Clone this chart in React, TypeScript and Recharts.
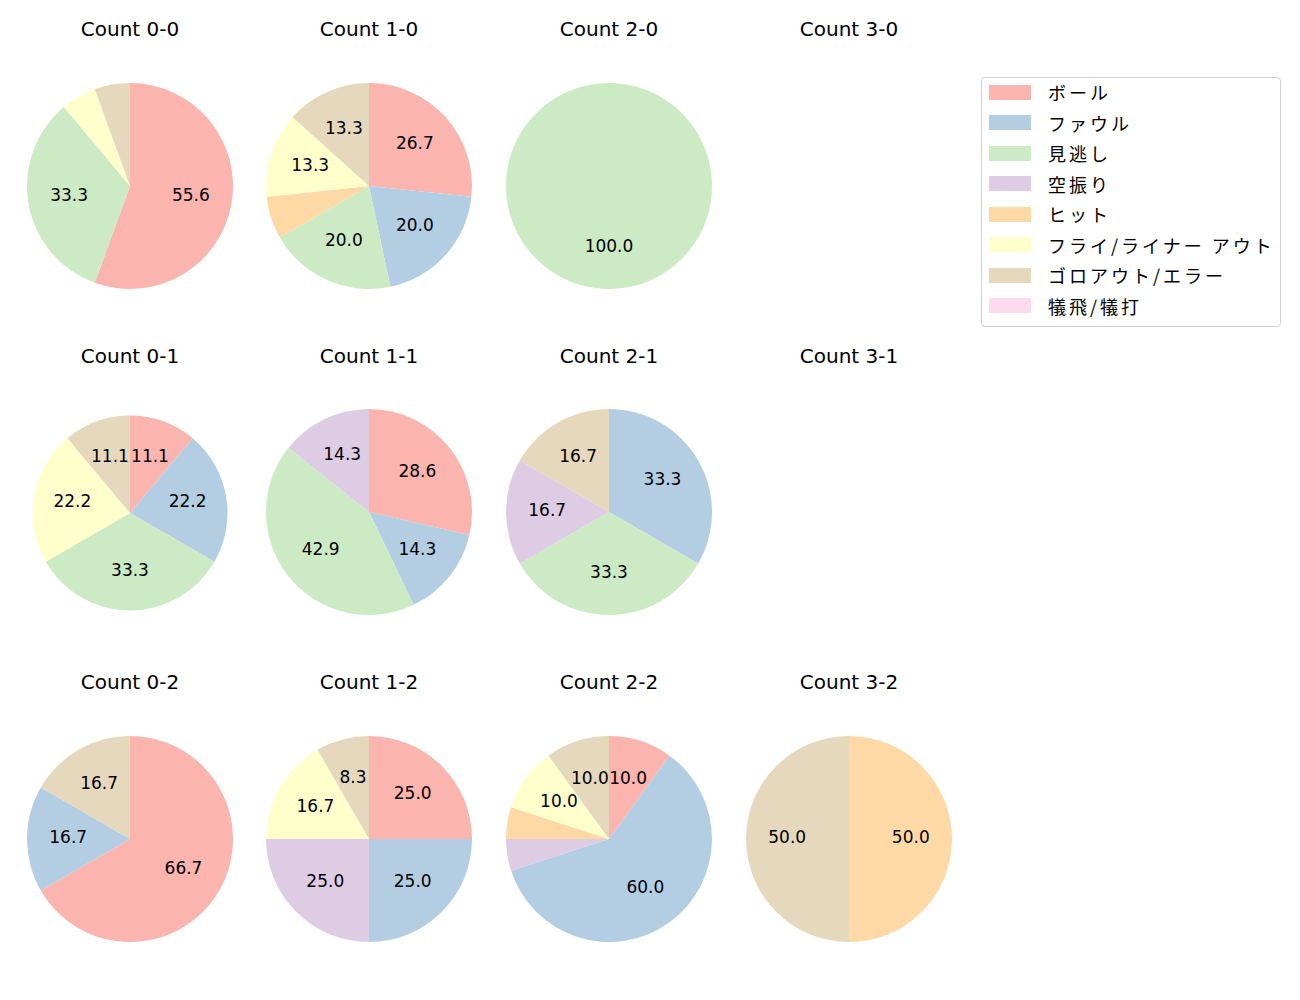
import React from 'react'
import { PieChart, Pie, Cell } from 'recharts'

const categories = ['ボール', 'ファウル', '見逃し', '空振り', 'ヒット', 'フライ/ライナー アウト', 'ゴロアウト/エラー', '犠飛/犠打']
const colors = ['#fbb4ae', '#b3cde3', '#ccebc5', '#decbe4', '#fed9a6', '#ffffcc', '#e5d8bd', '#fddaec']

const counts00 = [10, 0, 6, 0, 0, 1, 1, 0]
const counts10 = [4, 3, 3, 0, 1, 2, 2, 0]
const counts20 = [0, 0, 1, 0, 0, 0, 0, 0]
const counts30: number[] = []
const counts01 = [1, 2, 3, 0, 0, 2, 1, 0]
const counts11 = [2, 1, 3, 1, 0, 0, 0, 0]
const counts21 = [0, 2, 2, 1, 0, 0, 1, 0]
const counts31: number[] = []
const counts02 = [4, 1, 0, 0, 0, 0, 1, 0]
const counts12 = [3, 3, 0, 3, 0, 2, 1, 0]
const counts22 = [2, 12, 0, 1, 1, 2, 2, 0]
const counts32 = [0, 0, 0, 0, 1, 0, 1, 0]

const panels = [
  { title: 'Count 0-0', values: counts00 },
  { title: 'Count 1-0', values: counts10 },
  { title: 'Count 2-0', values: counts20 },
  { title: 'Count 3-0', values: counts30 },
  { title: 'Count 0-1', values: counts01, small: true },
  { title: 'Count 1-1', values: counts11 },
  { title: 'Count 2-1', values: counts21 },
  { title: 'Count 3-1', values: counts31 },
  { title: 'Count 0-2', values: counts02 },
  { title: 'Count 1-2', values: counts12 },
  { title: 'Count 2-2', values: counts22 },
  { title: 'Count 3-2', values: counts32 },
]

const colX = [130, 369, 609, 849]
const rowY = [186, 512, 839]
const titleY = [29, 356, 682]
const SIZE = 240
const LATIN = '"DejaVu Sans", "Noto Sans CJK JP", sans-serif'
const CJK = '"Noto Sans CJK JP", "DejaVu Sans", sans-serif'

const RAD = Math.PI / 180

// matplotlib-style autopct, small slices unlabeled
function renderLabel(props: any) {
  const { cx, cy, midAngle, outerRadius, percent } = props
  if (percent * 100 < 8) return null
  const r = outerRadius * 0.6
  const x = cx + r * Math.cos(-midAngle * RAD)
  const y = cy + r * Math.sin(-midAngle * RAD) - 2
  return (
    <text x={x} y={y} textAnchor="middle" dominantBaseline="central" fill="#000" fontSize={17} fontFamily={LATIN}>
      {(percent * 100).toFixed(1)}
    </text>
  )
}

function Panel({ title, values, x, y, ty, small }: { title: string; values: number[]; x: number; y: number; ty: number; small?: boolean }) {
  const data = values
    .map((v, i) => ({ name: categories[i], value: v, color: colors[i] }))
    .filter(d => d.value > 0)
  const cx = small ? x - 0.5 : x
  const cy = small ? y + 0.5 : y
  return (
    <>
      <div
        style={{
          position: 'absolute',
          left: x - 120,
          top: ty - 12,
          width: 240,
          lineHeight: '24px',
          textAlign: 'center',
          fontSize: 20,
          fontFamily: LATIN,
          color: '#000',
        }}
      >
        {title}
      </div>
      {data.length > 0 && (
        <div style={{ position: 'absolute', left: cx - SIZE / 2, top: cy - SIZE / 2 }}>
          <PieChart width={SIZE} height={SIZE} margin={{ top: 0, right: 0, bottom: 0, left: 0 }}>
            <Pie
              data={data}
              dataKey="value"
              cx="50%"
              cy="50%"
              outerRadius={small ? 97.5 : 103}
              startAngle={90}
              endAngle={-270}
              stroke="none"
              label={renderLabel}
              labelLine={false}
              isAnimationActive={false}
            >
              {data.map(d => (
                <Cell key={d.name} fill={d.color} />
              ))}
            </Pie>
          </PieChart>
        </div>
      )}
    </>
  )
}

export default function App() {
  return (
    <div style={{ position: 'absolute', left: 0, top: 0, width: 1300, height: 1000, background: '#fff' }}>
      {panels.map((p, i) => (
        <Panel
          key={p.title}
          title={p.title}
          values={p.values}
          small={p.small}
          x={colX[i % 4]}
          y={rowY[Math.floor(i / 4)]}
          ty={titleY[Math.floor(i / 4)]}
        />
      ))}
      <div
        style={{
          position: 'absolute',
          left: 981,
          top: 77,
          width: 298,
          height: 248,
          border: '1px solid #d0d0d0',
          borderRadius: 4,
          fontFamily: CJK,
          fontSize: 18,
        }}
      >
        {categories.map((c, i) => (
          <div key={c} style={{ position: 'absolute', left: 0, top: 14 - 12 + i * 30.57, height: 24, display: 'flex', alignItems: 'center' }}>
            <div style={{ marginLeft: 7, width: 42, height: 15, background: colors[i] }} />
            <div style={{ marginLeft: 17, lineHeight: '24px', whiteSpace: 'nowrap', letterSpacing: 3 }}>{c}</div>
          </div>
        ))}
      </div>
    </div>
  )
}
